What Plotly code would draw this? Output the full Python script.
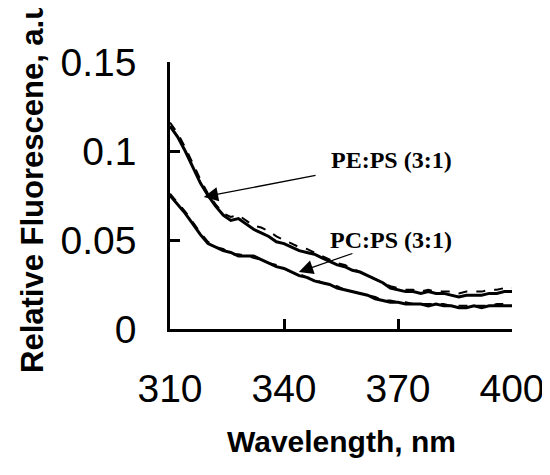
import plotly.graph_objects as go

wavelength = list(range(310, 401, 2))

pe_ps_solid = [0.114, 0.108, 0.100, 0.091, 0.082, 0.075, 0.069, 0.064, 0.061, 0.062,
               0.059, 0.056, 0.054, 0.052, 0.049, 0.048, 0.046, 0.044, 0.043, 0.042,
               0.040, 0.038, 0.036, 0.035, 0.033, 0.032, 0.030, 0.028, 0.026, 0.023,
               0.022, 0.021, 0.021, 0.020, 0.021, 0.020, 0.020, 0.019, 0.018, 0.019,
               0.019, 0.019, 0.020, 0.020, 0.021, 0.021]
pe_ps_dashed = [0.116, 0.110, 0.102, 0.093, 0.084, 0.076, 0.070, 0.065, 0.063, 0.064,
                0.061, 0.058, 0.057, 0.055, 0.052, 0.050, 0.048, 0.046, 0.045, 0.043,
                0.041, 0.039, 0.037, 0.036, 0.034, 0.032, 0.030, 0.028, 0.026, 0.024,
                0.023, 0.022, 0.022, 0.021, 0.022, 0.021, 0.021, 0.021, 0.020, 0.021,
                0.021, 0.021, 0.022, 0.022, 0.023, 0.023]
pc_ps_solid = [0.075, 0.070, 0.065, 0.059, 0.053, 0.048, 0.046, 0.044, 0.043, 0.041,
               0.041, 0.041, 0.039, 0.037, 0.035, 0.034, 0.032, 0.030, 0.029, 0.027,
               0.026, 0.025, 0.023, 0.022, 0.021, 0.020, 0.019, 0.017, 0.016, 0.015,
               0.015, 0.014, 0.014, 0.014, 0.013, 0.014, 0.013, 0.013, 0.012, 0.012,
               0.013, 0.012, 0.013, 0.013, 0.013, 0.013]
pc_ps_dashed = [0.076, 0.071, 0.066, 0.060, 0.054, 0.049, 0.046, 0.045, 0.042, 0.042,
                0.041, 0.040, 0.039, 0.037, 0.036, 0.034, 0.032, 0.031, 0.029, 0.028,
                0.026, 0.025, 0.024, 0.022, 0.021, 0.020, 0.019, 0.018, 0.016, 0.016,
                0.015, 0.015, 0.014, 0.014, 0.014, 0.014, 0.014, 0.013, 0.013, 0.013,
                0.013, 0.013, 0.013, 0.014, 0.014, 0.014]

x_ticks = [310, 340, 370, 400]
y_ticks = [0, 0.05, 0.1, 0.15]
y_tick_labels = ["0", "0.05", "0.1", "0.15"]

labels = ["PE:PS (3:1)", "PC:PS (3:1)"]
label_pos = [(368.2, 0.095), (368.2, 0.050)]
arrow_head = [(318.9, 0.0742), (343.9, 0.032)]
arrow_tail = [(348.7, 0.0865), (358.4, 0.0427)]

fig = go.Figure()
for ys, dash, w in [(pe_ps_dashed, "dash", 2), (pc_ps_dashed, "dash", 2),
                    (pe_ps_solid, "solid", 3), (pc_ps_solid, "solid", 3)]:
    fig.add_trace(go.Scatter(x=wavelength, y=ys, mode="lines",
                             line=dict(color="black", width=w, dash=dash),
                             showlegend=False, hoverinfo="skip"))

for (hx, hy), (tx, ty) in zip(arrow_head, arrow_tail):
    fig.add_annotation(x=hx, y=hy, ax=tx, ay=ty, xref="x", yref="y", axref="x", ayref="y",
                       text="", showarrow=True, arrowhead=2, arrowsize=2.2, arrowwidth=1.3,
                       arrowcolor="black", standoff=0, startstandoff=0)
for lab, (lx, ly) in zip(labels, label_pos):
    fig.add_annotation(x=lx, y=ly, xref="x", yref="y", text="<b>" + lab + "</b>",
                       showarrow=False, xanchor="center", yanchor="middle",
                       font=dict(family="Liberation Serif", size=24, color="black"))

fig.add_annotation(x=(341 - 170) / 342, y=-(441 - 329) / 267, xref="paper", yref="paper",
                   text="<b>Wavelength, nm</b>", showarrow=False,
                   xanchor="center", yanchor="middle",
                   font=dict(family="Liberation Sans", size=30, color="black"))
fig.add_annotation(x=-(170 - 32) / 342, y=(329 - 183) / 267, xref="paper", yref="paper",
                   text="<b>Relative Fluorescene, a.u.</b>", showarrow=False, textangle=-90,
                   xanchor="center", yanchor="middle",
                   font=dict(family="Liberation Sans", size=31, color="black"))

axis_common = dict(showgrid=False, zeroline=False, showline=True, linecolor="black",
                   linewidth=2.5, ticks="inside", ticklen=10, tickwidth=2.5, tickcolor="black",
                   tickfont=dict(family="Liberation Sans", size=39, color="black"))

fig.update_layout(
    width=550, height=475,
    margin=dict(l=162, r=46, t=54, b=154),
    plot_bgcolor="white", paper_bgcolor="white",
    xaxis=dict(range=[310, 400], tickvals=x_ticks, ticklabelstandoff=23, **axis_common),
    yaxis=dict(range=[0, 0.15], tickvals=y_ticks, ticktext=y_tick_labels,
               ticklabelstandoff=23, **axis_common),
)

fig.write_html("out.html")
